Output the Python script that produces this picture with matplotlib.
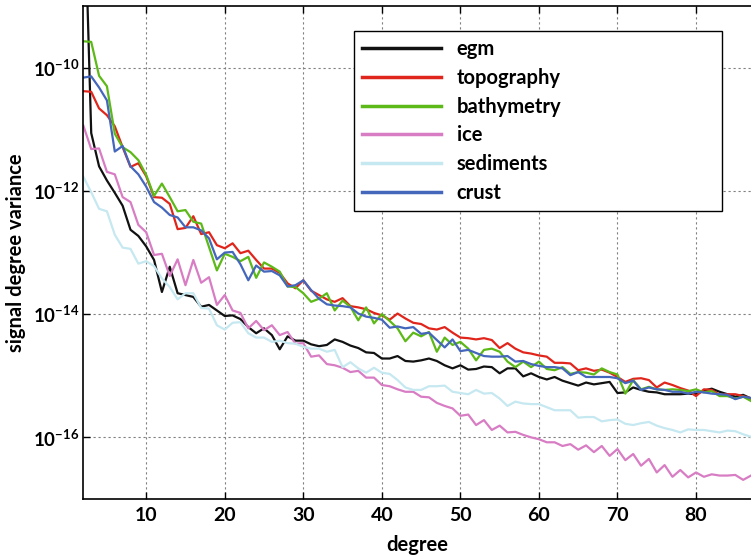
import numpy as np
import matplotlib
matplotlib.use("Agg")
import matplotlib.pyplot as plt

plt.rcParams["font.family"] = ["Lato", "DejaVu Sans"]
plt.rcParams["font.weight"] = "bold"
plt.rcParams["mathtext.fontset"] = "custom"
plt.rcParams["mathtext.rm"] = "Lato:bold"
plt.rcParams["mathtext.it"] = "Lato:bold"
plt.rcParams["mathtext.bf"] = "Lato:bold"

# spherical harmonic degree 2..87
degree = np.arange(2, 88)

# log10 of the signal degree variance
egm_log10 = [
    -6.64, -11.06, -11.60, -11.83, -12.03, -12.24, -12.63, -12.73, -12.90, -13.12,
    -13.64, -13.23, -13.66, -13.69, -13.72, -13.88, -13.85, -13.94, -14.03, -14.02,
    -14.08, -14.21, -14.31, -14.23, -14.34, -14.57, -14.36, -14.43, -14.43, -14.49,
    -14.52, -14.50, -14.41, -14.45, -14.51, -14.55, -14.62, -14.63, -14.72, -14.72,
    -14.68, -14.76, -14.77, -14.75, -14.72, -14.76, -14.83, -14.88, -14.83, -14.90,
    -14.89, -14.85, -14.86, -14.96, -14.88, -14.88, -15.01, -14.96, -15.02, -15.06,
    -15.02, -15.08, -15.12, -15.16, -15.11, -15.14, -15.12, -15.10, -15.28, -15.27,
    -15.19, -15.23, -15.26, -15.27, -15.30, -15.30, -15.30, -15.29, -15.30, -15.24,
    -15.21, -15.26, -15.30, -15.34, -15.31, -15.37,
]
topography_log10 = [
    -10.38, -10.39, -10.66, -10.77, -10.95, -11.29, -11.61, -11.55, -11.76, -12.10,
    -12.11, -12.21, -12.62, -12.60, -12.41, -12.70, -12.67, -12.88, -12.93, -12.85,
    -13.01, -12.97, -13.12, -13.26, -13.26, -13.33, -13.50, -13.58, -13.45, -13.62,
    -13.69, -13.76, -13.80, -13.74, -13.87, -13.89, -13.92, -13.98, -14.02, -14.09,
    -13.99, -14.07, -14.14, -14.16, -14.23, -14.25, -14.21, -14.30, -14.38, -14.39,
    -14.41, -14.39, -14.42, -14.55, -14.47, -14.56, -14.62, -14.64, -14.67, -14.69,
    -14.79, -14.79, -14.80, -14.91, -14.88, -14.92, -14.90, -14.95, -15.02, -15.10,
    -15.05, -15.04, -15.07, -15.19, -15.11, -15.15, -15.20, -15.24, -15.33, -15.22,
    -15.23, -15.31, -15.30, -15.30, -15.33, -15.37,
]
bathymetry_log10 = [
    -9.57, -9.58, -10.13, -10.30, -11.07, -11.29, -11.37, -11.50, -11.74, -12.08,
    -11.88, -12.10, -12.33, -12.31, -12.50, -12.53, -12.91, -13.29, -13.02, -13.07,
    -13.14, -13.07, -13.41, -13.16, -13.23, -13.31, -13.55, -13.56, -13.66, -13.80,
    -13.75, -13.66, -13.94, -13.78, -13.88, -14.10, -13.89, -14.15, -14.00, -14.11,
    -14.23, -14.44, -14.30, -14.36, -14.29, -14.61, -14.38, -14.50, -14.45, -14.56,
    -14.75, -14.58, -14.56, -14.61, -14.77, -14.86, -14.77, -14.86, -14.77, -14.89,
    -14.91, -14.86, -14.97, -14.94, -14.95, -14.98, -14.88, -14.94, -14.98, -15.29,
    -15.07, -15.22, -15.18, -15.22, -15.23, -15.22, -15.23, -15.25, -15.22, -15.27,
    -15.25, -15.33, -15.33, -15.37, -15.34, -15.41,
]
ice_log10 = [
    -10.94, -11.32, -11.31, -11.69, -11.73, -12.10, -12.18, -12.55, -12.67, -13.04,
    -13.02, -13.38, -13.11, -13.53, -13.12, -13.49, -13.40, -13.85, -13.69, -13.94,
    -13.98, -14.23, -14.11, -14.26, -14.18, -14.34, -14.29, -14.48, -14.47, -14.69,
    -14.67, -14.81, -14.83, -14.87, -14.94, -14.92, -15.03, -15.03, -15.15, -15.17,
    -15.22, -15.26, -15.26, -15.34, -15.35, -15.44, -15.49, -15.53, -15.65, -15.63,
    -15.80, -15.72, -15.88, -15.81, -15.92, -15.91, -15.96, -16.00, -16.03, -16.08,
    -16.08, -16.14, -16.11, -16.20, -16.13, -16.24, -16.14, -16.30, -16.19, -16.37,
    -16.27, -16.46, -16.35, -16.57, -16.45, -16.64, -16.53, -16.65, -16.57, -16.64,
    -16.60, -16.62, -16.62, -16.61, -16.69, -16.62,
]
sediments_log10 = [
    -11.77, -12.02, -12.29, -12.33, -12.71, -12.92, -12.94, -13.18, -13.14, -13.22,
    -13.42, -13.56, -13.76, -13.66, -13.66, -13.90, -13.91, -14.18, -14.25, -14.14,
    -14.13, -14.31, -14.38, -14.38, -14.45, -14.43, -14.47, -14.48, -14.53, -14.56,
    -14.56, -14.61, -14.58, -14.86, -14.78, -14.88, -14.95, -14.87, -14.95, -14.97,
    -15.07, -15.19, -15.23, -15.23, -15.17, -15.17, -15.16, -15.26, -15.28, -15.30,
    -15.23, -15.29, -15.28, -15.37, -15.49, -15.42, -15.45, -15.46, -15.46, -15.51,
    -15.56, -15.56, -15.56, -15.68, -15.67, -15.67, -15.74, -15.72, -15.71, -15.78,
    -15.80, -15.77, -15.75, -15.81, -15.85, -15.88, -15.92, -15.87, -15.88, -15.88,
    -15.90, -15.92, -15.89, -15.90, -15.95, -15.99,
]
crust_log10 = [
    -10.16, -10.14, -10.32, -10.53, -11.36, -11.27, -11.60, -11.73, -11.93, -12.18,
    -12.27, -12.39, -12.43, -12.59, -12.59, -12.64, -12.77, -13.11, -13.00, -12.99,
    -13.19, -13.45, -13.21, -13.31, -13.30, -13.37, -13.55, -13.53, -13.45, -13.61,
    -13.75, -13.84, -13.86, -13.87, -13.89, -13.99, -14.04, -14.06, -14.09, -14.22,
    -14.20, -14.23, -14.21, -14.32, -14.30, -14.42, -14.54, -14.41, -14.60, -14.58,
    -14.63, -14.68, -14.69, -14.69, -14.68, -14.77, -14.76, -14.81, -14.84, -14.86,
    -14.86, -14.88, -14.99, -14.94, -15.02, -15.02, -15.02, -15.02, -15.04, -15.12,
    -15.08, -15.23, -15.19, -15.22, -15.23, -15.26, -15.26, -15.29, -15.26, -15.27,
    -15.29, -15.30, -15.31, -15.38, -15.34, -15.36,
]

series = [
    ("egm", egm_log10, "#111111"),
    ("topography", topography_log10, "#e0261c"),
    ("bathymetry", bathymetry_log10, "#5cb917"),
    ("ice", ice_log10, "#d87dc4"),
    ("sediments", sediments_log10, "#c6e8f0"),
    ("crust", crust_log10, "#4466bb"),
]

yticks = [1e-10, 1e-12, 1e-14, 1e-16]
ytick_labels = [r"$10^{-10}$", r"$10^{-12}$", r"$10^{-14}$", r"$10^{-16}$"]
xticks = [10, 20, 30, 40, 50, 60, 70, 80]

fig = plt.figure(figsize=(7.51, 5.60), dpi=100)
ax = fig.add_axes([0.111, 0.109, 0.889, 0.880])

for name, vals, color in series:
    ax.plot(degree, 10.0 ** np.array(vals), color=color, lw=1.6, label=name)

ax.set_yscale("log")
ax.set_xlim(2, 87)
ax.set_ylim(1e-17, 1e-9)
ax.set_xticks(xticks)
ax.set_yticks(yticks)
ax.set_yticklabels(ytick_labels)
ax.yaxis.set_minor_locator(matplotlib.ticker.NullLocator())
ax.tick_params(direction="in", length=5, width=1, top=True)
ax.tick_params(axis="x", labelsize=14, pad=6)
ax.tick_params(axis="y", labelsize=13.5, pad=3)
ax.grid(True, color="#808080", linestyle=(0, (2, 2.5)), linewidth=0.8)

ax.spines["right"].set_visible(False)
for s in ("left", "bottom", "top"):
    ax.spines[s].set_linewidth(1.2)

ax.set_xlabel("degree", fontsize=14.5, fontweight="bold", labelpad=8)
ax.set_ylabel("signal degree variance", fontsize=14.5, fontweight="bold", labelpad=5)

leg = ax.legend(
    loc="upper left",
    bbox_to_anchor=(0.405, 0.950, 0.551, 0.0),
    mode="expand",
    fontsize=14.5,
    frameon=True,
    fancybox=False,
    framealpha=1,
    edgecolor="black",
    handlelength=3.9,
    handletextpad=0.8,
    labelspacing=0.43,
    borderpad=0.42,
    borderaxespad=0,
)
leg.get_frame().set_linewidth(1.0)
for line in leg.get_lines():
    line.set_linewidth(2.5)

fig.savefig("out.png", dpi=100)
